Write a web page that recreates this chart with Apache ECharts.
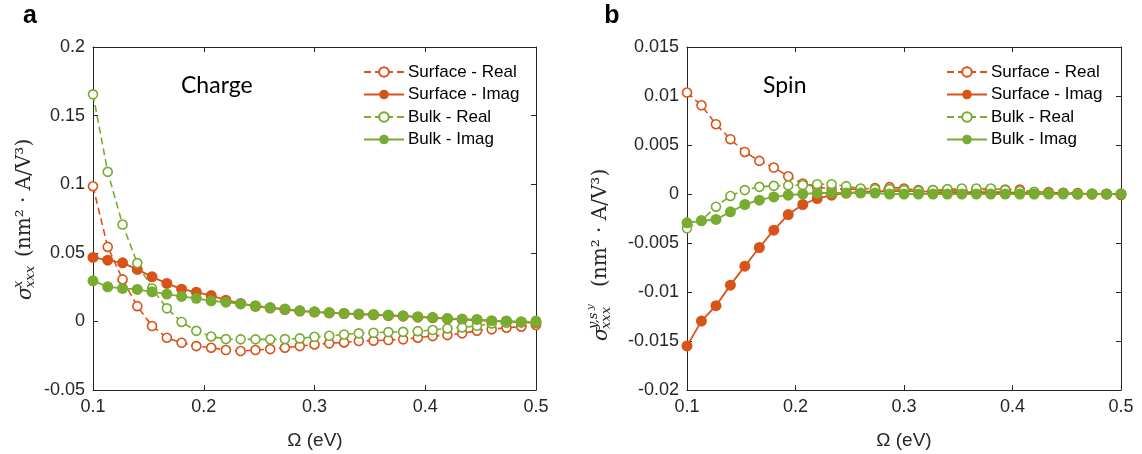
<!DOCTYPE html>
<html>
<head>
<meta charset="utf-8">
<script src="https://cdn.jsdelivr.net/npm/echarts@6/dist/echarts.min.js"></script>
<style>
html,body{margin:0;padding:0;background:#fff;}
#chart{width:1142px;height:454px;}
</style>
</head>
<body>
<div id="chart"></div>
<script>
// ---- data ----
const omega = [0.1000, 0.1133, 0.1267, 0.1400, 0.1533, 0.1667, 0.1800, 0.1933, 0.2067, 0.2200,
  0.2333, 0.2467, 0.2600, 0.2733, 0.2867, 0.3000, 0.3133, 0.3267, 0.3400, 0.3533,
  0.3667, 0.3800, 0.3933, 0.4067, 0.4200, 0.4333, 0.4467, 0.4600, 0.4733, 0.4867, 0.5000];

const seriesNames = ['Surface - Real', 'Surface - Imag', 'Bulk - Real', 'Bulk - Imag'];

// Panel a: charge
const chargeSurfReal = [0.0985, 0.0543, 0.0306, 0.0111, -0.0034, -0.0119, -0.0156, -0.0180, -0.0192, -0.0209,
  -0.0216, -0.0209, -0.0202, -0.0192, -0.0180, -0.0168, -0.0160, -0.0153, -0.0143, -0.0141,
  -0.0136, -0.0131, -0.0119, -0.0107, -0.0100, -0.0087, -0.0068, -0.0058, -0.0046, -0.0039, -0.0027];
const chargeSurfImag = [0.0466, 0.0446, 0.0427, 0.0379, 0.0325, 0.0277, 0.0235, 0.0213, 0.0188, 0.0155,
  0.0131, 0.0110, 0.0097, 0.0086, 0.0075, 0.0068, 0.0062, 0.0057, 0.0052, 0.0048,
  0.0043, 0.0038, 0.0031, 0.0026, 0.0019, 0.0014, 0.0010, 0.0002, 0.0000, -0.0006, -0.0010];
const chargeBulkReal = [0.1655, 0.1090, 0.0706, 0.0425, 0.0240, 0.0095, -0.0004, -0.0069, -0.0110, -0.0129,
  -0.0131, -0.0131, -0.0131, -0.0129, -0.0124, -0.0112, -0.0105, -0.0095, -0.0087, -0.0083,
  -0.0078, -0.0076, -0.0071, -0.0063, -0.0051, -0.0044, -0.0032, -0.0015, -0.0010, -0.0005, 0.0004];
const chargeBulkImag = [0.0296, 0.0252, 0.0240, 0.0233, 0.0216, 0.0199, 0.0182, 0.0168, 0.0150, 0.0140,
  0.0127, 0.0114, 0.0101, 0.0091, 0.0078, 0.0070, 0.0064, 0.0058, 0.0054, 0.0051,
  0.0046, 0.0041, 0.0034, 0.0029, 0.0022, 0.0017, 0.0014, 0.0005, 0.0003, -0.0003, -0.0007];

// Panel b: spin
const spinSurfReal = [0.01035, 0.00905, 0.00712, 0.00559, 0.00429, 0.00338, 0.00270, 0.00181, 0.00107, 0.00070,
  0.00050, 0.00050, 0.00050, 0.00060, 0.00070, 0.00056, 0.00040, 0.00040, 0.00040, 0.00040,
  0.00040, 0.00050, 0.00046, 0.00046, 0.00020, 0.00020, 0.00010, 0.00010, 0.00000, 0.00000, -0.00010];
const spinSurfImag = [-0.01550, -0.01297, -0.01140, -0.00930, -0.00736, -0.00546, -0.00369, -0.00210, -0.00107, -0.00046,
  -0.00012, 0.00010, 0.00020, 0.00030, 0.00030, 0.00030, 0.00030, 0.00020, 0.00020, 0.00020,
  0.00020, 0.00020, 0.00020, 0.00010, 0.00010, 0.00010, 0.00010, 0.00000, 0.00000, 0.00000, 0.00000];
const spinBulkReal = [-0.00350, -0.00270, -0.00130, -0.00020, 0.00040, 0.00073, 0.00083, 0.00088, 0.00090, 0.00100,
  0.00100, 0.00080, 0.00056, 0.00050, 0.00050, 0.00040, 0.00030, 0.00040, 0.00050, 0.00056,
  0.00056, 0.00056, 0.00040, 0.00030, 0.00020, 0.00010, 0.00010, 0.00000, 0.00000, 0.00000, 0.00000];
const spinBulkImag = [-0.00294, -0.00274, -0.00260, -0.00182, -0.00107, -0.00063, -0.00030, -0.00012, 0.00000, 0.00010,
  0.00010, 0.00010, 0.00010, 0.00010, 0.00000, 0.00000, 0.00000, 0.00000, 0.00000, 0.00000,
  0.00000, 0.00000, 0.00000, 0.00000, 0.00000, 0.00000, 0.00000, 0.00000, 0.00000, 0.00000, 0.00000];

// tick values
const xTicks = [0.1, 0.2, 0.3, 0.4, 0.5];
const yTicksCharge = [-0.05, 0, 0.05, 0.1, 0.15, 0.2];
const yTicksSpin = [-0.02, -0.015, -0.01, -0.005, 0, 0.005, 0.01, 0.015];

// ---- style ----
const ORANGE = '#D95319';
const GREEN = '#77AC30';
const AX = '#262626';
const LABEL_FONT = 'Arial, "Liberation Sans", sans-serif';

function pairs(ys) { return omega.map((x, i) => [x, ys[i]]); }
function fmt(v) { return String(parseFloat(v.toFixed(4))); }

function xAxisPair(grid) {
  const base = {
    type: 'value', gridIndex: grid,
    min: xTicks[0], max: xTicks[xTicks.length - 1], interval: xTicks[1] - xTicks[0],
    axisLine: { show: true, onZero: false, lineStyle: { color: AX, width: 1 } },
    axisTick: { show: true, inside: true, length: 5, lineStyle: { color: AX } },
    splitLine: { show: false }
  };
  return [
    Object.assign({}, base, { position: 'bottom',
      axisLabel: { show: true, color: AX, fontSize: 18, fontFamily: LABEL_FONT, margin: 8, formatter: fmt } }),
    Object.assign({}, base, { position: 'top', axisLabel: { show: false } })
  ];
}
function yAxisPair(grid, ticks) {
  const base = {
    type: 'value', gridIndex: grid,
    min: ticks[0], max: ticks[ticks.length - 1], interval: ticks[1] - ticks[0],
    axisLine: { show: true, onZero: false, lineStyle: { color: AX, width: 1 } },
    axisTick: { show: true, inside: true, length: 5, lineStyle: { color: AX } },
    splitLine: { show: false }
  };
  return [
    Object.assign({}, base, { position: 'left',
      axisLabel: { show: true, color: AX, fontSize: 18, fontFamily: LABEL_FONT, margin: 8, formatter: fmt } }),
    Object.assign({}, base, { position: 'right', axisLabel: { show: false } })
  ];
}

function mkSeries(name, data, color, real, xi, yi) {
  return {
    name: name, type: 'line', xAxisIndex: xi, yAxisIndex: yi,
    data: pairs(data),
    symbol: 'circle',
    symbolSize: real ? 9 : 11,
    showAllSymbol: true,
    itemStyle: real ? { color: '#ffffff', borderColor: color, borderWidth: 1.6 } : { color: color, borderColor: color, borderWidth: 0 },
    lineStyle: { color: color, width: real ? 1.6 : 1.8, type: real ? [7, 4] : 'solid' },
    emphasis: { disabled: true },
    animation: false
  };
}

const series = [
  mkSeries(seriesNames[0], chargeSurfReal, ORANGE, true, 0, 0),
  mkSeries(seriesNames[1], chargeSurfImag, ORANGE, false, 0, 0),
  mkSeries(seriesNames[2], chargeBulkReal, GREEN, true, 0, 0),
  mkSeries(seriesNames[3], chargeBulkImag, GREEN, false, 0, 0),
  mkSeries(seriesNames[0], spinSurfReal, ORANGE, true, 2, 2),
  mkSeries(seriesNames[1], spinSurfImag, ORANGE, false, 2, 2),
  mkSeries(seriesNames[2], spinBulkReal, GREEN, true, 2, 2),
  mkSeries(seriesNames[3], spinBulkImag, GREEN, false, 2, 2)
];

function legendAt(left) {
  return {
    data: seriesNames, orient: 'vertical', left: left, top: 62,
    itemWidth: 40, itemHeight: 12, itemGap: 2.5, padding: 0,
    selectedMode: false,
    textStyle: { color: '#000', fontSize: 17, fontFamily: LABEL_FONT, lineHeight: 20, padding: [0, 0, 0, -1] }
  };
}

function yNameGroup(cx, cy, parts) {
  return {
    type: 'group', x: cx, y: cy, rotation: Math.PI / 2,
    children: parts.map(p => ({
      type: 'text', x: p.x, y: p.y,
      style: { text: p.t, font: p.f, fill: AX, textAlign: 'left', textVerticalAlign: 'middle' }
    }))
  };
}
const SERIF = '"DejaVu Serif"';

const option = {
  backgroundColor: '#ffffff',
  animation: false,
  grid: [
    { left: 93, top: 47, width: 443, height: 343, containLabel: false },
    { left: 687, top: 47, width: 434, height: 343, containLabel: false }
  ],
  xAxis: [].concat(xAxisPair(0), xAxisPair(1)),
  yAxis: [].concat(yAxisPair(0, yTicksCharge), yAxisPair(1, yTicksSpin)),
  legend: [legendAt(363), legendAt(946)],
  series: series,
  graphic: [
    { type: 'text', x: 30, y: 16, style: { text: 'a', font: 'bold 25px Arial, "Liberation Sans"', fill: '#000', textAlign: 'center', textVerticalAlign: 'middle' } },
    { type: 'text', x: 612, y: 16, style: { text: 'b', font: 'bold 25px Arial, "Liberation Sans"', fill: '#000', textAlign: 'center', textVerticalAlign: 'middle' } },
    { type: 'text', x: 181, y: 86, style: { text: 'Charge', font: '23px Lato', fill: '#000', textAlign: 'left', textVerticalAlign: 'middle' } },
    { type: 'text', x: 763, y: 86, style: { text: 'Spin', font: '23px Lato', fill: '#000', textAlign: 'left', textVerticalAlign: 'middle' } },
    { type: 'text', x: 315, y: 441, style: { text: 'Ω (eV)', font: '19px Arial, "Liberation Sans"', fill: AX, textAlign: 'center', textVerticalAlign: 'middle' } },
    { type: 'text', x: 904, y: 441, style: { text: 'Ω (eV)', font: '19px Arial, "Liberation Sans"', fill: AX, textAlign: 'center', textVerticalAlign: 'middle' } },
    yNameGroup(25, 220, [
      { t: 'σ', x: -80, y: 1, f: 'italic 20px ' + SERIF },
      { t: 'x', x: -68, y: -6, f: 'italic 13px ' + SERIF },
      { t: 'xxx', x: -68, y: 6, f: 'italic 13px ' + SERIF },
      { t: '(nm² · A/V³)', x: -37, y: 0, f: '20px ' + SERIF }
    ]),
    yNameGroup(601, 254, [
      { t: 'σ', x: -87, y: 1, f: 'italic 20px ' + SERIF },
      { t: 'y,s', x: -75, y: -7, f: 'italic 13px ' + SERIF },
      { t: 'y', x: -56, y: -11, f: 'italic 10px ' + SERIF },
      { t: 'xxx', x: -75, y: 6, f: 'italic 13px ' + SERIF },
      { t: '(nm² · A/V³)', x: -33, y: 0, f: '20px ' + SERIF }
    ])
  ]
};

const chart = echarts.init(document.getElementById('chart'), null, { renderer: 'canvas' });
chart.setOption(option);
</script>
</body>
</html>
